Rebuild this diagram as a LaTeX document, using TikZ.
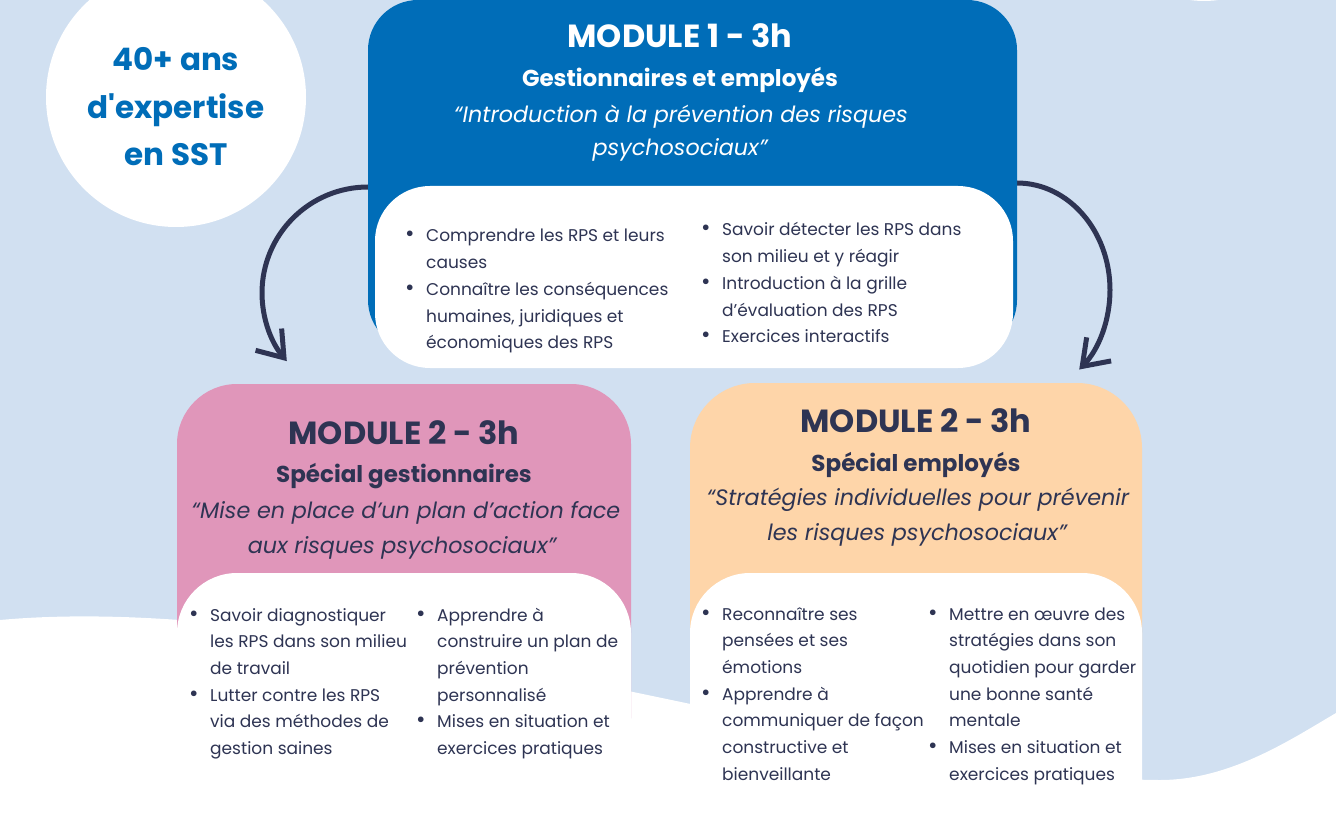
\documentclass[tikz,border=0pt]{standalone}
\usepackage{fontspec}
\setmainfont{Poppins}
\usetikzlibrary{arrows.meta}

\definecolor{bgblue}{HTML}{D1E0F1}
\definecolor{m1blue}{HTML}{006DB8}
\definecolor{rose}{HTML}{E096BA}
\definecolor{peach}{HTML}{FED5A9}
\definecolor{navy}{HTML}{2E3453}

\newcommand{\itm}{\makebox[21pt][l]{\fontsize{23}{23}\selectfont\textbullet}}

\tikzset{
  circtext/.style={anchor=base, text=m1blue, font=\fontsize{31}{36}\selectfont\bfseries},
  title/.style={anchor=base, font=\fontsize{32}{38}\selectfont\bfseries},
  subtitle/.style={anchor=base, font=\fontsize{23}{27}\selectfont\bfseries},
  quote/.style={anchor=base, font=\fontsize{22.3}{27}\selectfont\itshape},
  items/.style={anchor=base west, inner sep=0pt, text=navy, font=\fontsize{17}{26.7}\selectfont},
  bend arrow/.style={draw=navy, line width=5pt, line cap=round, -{Straight Barb[length=24pt, width=34pt]}}
}

\begin{document}
\begin{tikzpicture}[x=1pt,y=-1pt]
\useasboundingbox (0,0) rectangle (1336,818);
\fill[bgblue] (0,0) rectangle (1336,818);
% white wave at the bottom
\fill[white] (0,620) .. controls (350,588) and (900,780) .. (1160,780)
  .. controls (1230,780) and (1290,740) .. (1336,713) -- (1336,818) -- (0,818) -- cycle;
\fill[white] (176,97) circle[radius=130];
\fill[white] (1204,-100) circle[radius=101];

% arrows
\coordinate (a1) at (368,187);
\coordinate (a2) at (1017,183);
\draw[bend arrow] (a1) arc[start angle=-90, end angle=-220, radius=106];
\draw[bend arrow] (a2) arc[start angle=-90, end angle=48, x radius=93, y radius=107];

% cards
\fill[m1blue, rounded corners=50pt] (368,0) rectangle (1017,350);
\fill[white, rounded corners=55pt] (375,186) rectangle (1013,368);
\fill[rose, rounded corners=60pt] (177,384) rectangle (631,778);
\fill[white, rounded corners=60pt] (177,573) rectangle (631,900);
\fill[peach, rounded corners=65pt] (690,383) rectangle (1142,780);
\fill[white, rounded corners=60pt] (690,573) rectangle (1142,900);

\node[circtext] (c1) at (176,71) {40+ ans};
\node[circtext] (c2) at (176,119) {d\textquotesingle expertise};
\node[circtext] (c3) at (176,166) {en SST};

% module 1
\node[title, text=white] (t1) at (680,48) {MODULE 1 - 3h};
\node[subtitle, text=white] (s1) at (680,87) {Gestionnaires et employés};
\node[quote, text=white] (q1a) at (681,123) {“Introduction à la prévention des risques};
\node[quote, text=white] (q1b) at (680,156) {psychosociaux”};
\node[items] (m1l) at (405,242) {\begin{tabular}[t]{@{}l@{}l@{}}
\itm & Comprendre les RPS et leurs\\
 & causes\\
\itm & Connaître les conséquences\\
 & humaines, juridiques et\\
 & économiques des RPS
\end{tabular}};
\node[items] (m1r) at (701,236) {\begin{tabular}[t]{@{}l@{}l@{}}
\itm & Savoir détecter les RPS dans\\
 & son milieu et y réagir\\
\itm & Introduction à la grille\\
 & d’évaluation des RPS\\
\itm & Exercices interactifs
\end{tabular}};

% module 2, gestionnaires
\node[title, text=navy] (t2) at (404,444) {MODULE 2 - 3h};
\node[subtitle, text=navy] (s2) at (404,482) {Spécial gestionnaires};
\node[quote, text=navy] (q2a) at (406,518) {“Mise en place d’un plan d’action face};
\node[quote, text=navy] (q2b) at (402,553) {aux risques psychosociaux”};
\node[items] (m2l) at (189,621) {\begin{tabular}[t]{@{}l@{}l@{}}
\itm & Savoir diagnostiquer\\
 & les RPS dans son milieu\\
 & de travail\\
\itm & Lutter contre les RPS\\
 & via des méthodes de\\
 & gestion saines
\end{tabular}};
\node[items] (m2r) at (416,621) {\begin{tabular}[t]{@{}l@{}l@{}}
\itm & Apprendre à\\
 & construire un plan de\\
 & prévention\\
 & personnalisé\\
\itm & Mises en situation et\\
 & exercices pratiques
\end{tabular}};

% module 2, employes
\node[title, text=navy] (t3) at (916,432) {MODULE 2 - 3h};
\node[subtitle, text=navy] (s3) at (916,471) {Spécial employés};
\node[quote, text=navy] (q3a) at (918,505) {“Stratégies individuelles pour prévenir};
\node[quote, text=navy] (q3b) at (917,540) {les risques psychosociaux”};
\node[items] (m3l) at (701,620) {\begin{tabular}[t]{@{}l@{}l@{}}
\itm & Reconnaître ses\\
 & pensées et ses\\
 & émotions\\
\itm & Apprendre à\\
 & communiquer de façon\\
 & constructive et\\
 & bienveillante
\end{tabular}};
\node[items] (m3r) at (928,620) {\begin{tabular}[t]{@{}l@{}l@{}}
\itm & Mettre en œuvre des\\
 & stratégies dans son\\
 & quotidien pour garder\\
 & une bonne santé\\
 & mentale\\
\itm & Mises en situation et\\
 & exercices pratiques
\end{tabular}};
\end{tikzpicture}
\end{document}
